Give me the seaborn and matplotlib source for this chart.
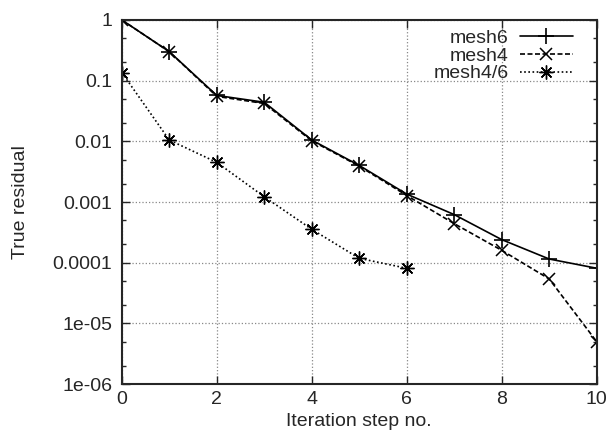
#!/usr/bin/env python3
# True residual vs. iteration step, log scale (gnuplot-like look)

import matplotlib
matplotlib.use('Agg')
import matplotlib.pyplot as plt
import matplotlib.ticker as mticker
import numpy as np
import pandas as pd
import seaborn as sns

# Data
steps6 = [0, 1, 2, 3, 4, 5, 6, 7, 8, 9, 10]
mesh6 = [1.0, 0.30, 0.057, 0.044, 0.0105, 0.0040, 0.00135, 0.00062, 0.00024, 0.000115, 0.000081]
steps4 = [0, 1, 2, 3, 4, 5, 6, 7, 8, 9, 10]
mesh4 = [1.0, 0.30, 0.055, 0.042, 0.0102, 0.0039, 0.00128, 0.00044, 0.00016, 0.000054, 0.000005]
steps46 = [0, 1, 2, 3, 4, 5, 6]
mesh46 = [0.136, 0.0105, 0.0045, 0.00122, 0.000355, 0.000118, 0.000081]

seriesNames = ['mesh6', 'mesh4', 'mesh4/6']
yTicks = [1e-6, 1e-5, 1e-4, 1e-3, 1e-2, 1e-1, 1]
yTickLabels = ['1e-06', '1e-05', '0.0001', '0.001', '0.01', '0.1', '1']
xTicks = [0, 2, 4, 6, 8, 10]

sns.set_style('ticks')
plt.rcParams['font.family'] = ['Liberation Sans', 'DejaVu Sans']
fs = 14

df = pd.concat([
  pd.DataFrame({'step': steps6, 'res': mesh6, 'series': seriesNames[0]}),
  pd.DataFrame({'step': steps4, 'res': mesh4, 'series': seriesNames[1]}),
  pd.DataFrame({'step': steps46, 'res': mesh46, 'series': seriesNames[2]}),
])

fig = plt.figure(figsize=(6.12, 4.43), dpi=100)
ax = fig.add_axes([0.199, 0.133, 0.776, 0.822])

styles = {
  'mesh6': dict(linestyle='-', marker='+', markersize=12, mew=1.2),
  'mesh4': dict(linestyle=(0, (3, 1.5)), marker='x', markersize=9, mew=1.1),
  'mesh4/6': dict(linestyle=(0, (1, 1.5)), marker=(8, 2, 0), markersize=10, mew=1.0),
}
for name in seriesNames:
  sub = df[df['series'] == name]
  sns.lineplot(data=sub, x='step', y='res', ax=ax, color='black', lw=1.2,
               label=name, markeredgecolor='black', **styles[name])

ax.set_yscale('log')
ax.set_xlim(0, 10)
ax.set_ylim(1e-6, 1)
ax.set_xticks(xTicks)
ax.set_xticklabels([str(t) for t in xTicks])
ax.set_yticks(yTicks)
ax.set_yticklabels(yTickLabels)
ax.yaxis.set_minor_locator(mticker.LogLocator(base=10, subs=[2, 5]))
ax.yaxis.set_minor_formatter(mticker.NullFormatter())
ax.tick_params(which='both', direction='in', top=True, right=True, labelsize=fs)
ax.tick_params(which='major', length=6, width=1)
ax.tick_params(which='minor', length=3, width=1)
ax.tick_params(axis='y', pad=7)
ax.tick_params(axis='x', pad=5)
ax.grid(True, which='major', linestyle=':', color='#888888', lw=0.9)
for s in ax.spines.values():
  s.set_linewidth(1.5)

ax.set_xlabel('Iteration step no.', fontsize=fs)
ax.set_ylabel('True residual', fontsize=fs)
ax.yaxis.set_label_coords(-0.195, 0.5)
ax.xaxis.set_label_coords(0.5, -0.08)

leg = ax.legend(loc='upper right', markerfirst=False, frameon=False, fontsize=fs,
                handlelength=2.7, handletextpad=0.6, labelspacing=0.0,
                borderaxespad=0.1, bbox_to_anchor=(0.97, 1.0))

fig.savefig('out.png', dpi=100)
